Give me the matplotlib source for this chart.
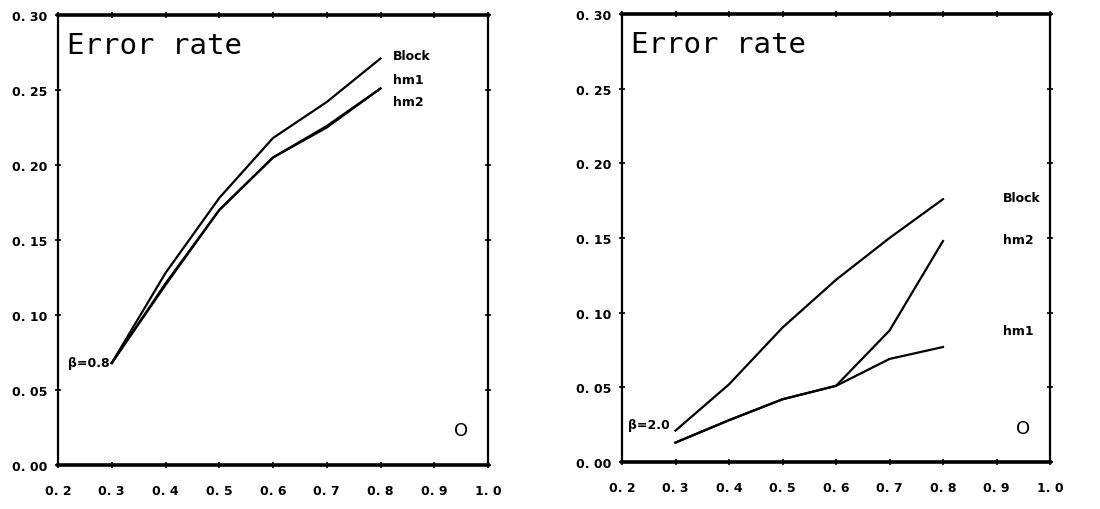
import matplotlib.pyplot as plt
import numpy as np

# load factor on the x axis
load = [0.3, 0.4, 0.5, 0.6, 0.7, 0.8]

# beta = 0.8
block_b08 = [0.068, 0.128, 0.178, 0.218, 0.242, 0.271]
hm1_b08 = [0.068, 0.120, 0.170, 0.205, 0.226, 0.251]
hm2_b08 = [0.068, 0.121, 0.170, 0.205, 0.225, 0.251]

# beta = 2.0
block_b20 = [0.021, 0.052, 0.090, 0.122, 0.150, 0.176]
hm1_b20 = [0.013, 0.028, 0.042, 0.051, 0.069, 0.077]
hm2_b20 = [0.013, 0.028, 0.042, 0.051, 0.088, 0.148]

xticks = [0.2, 0.3, 0.4, 0.5, 0.6, 0.7, 0.8, 0.9, 1.0]
yticks = [0.0, 0.05, 0.10, 0.15, 0.20, 0.25, 0.30]


def fmt(v, nd):
    s = f"{v:.{nd}f}"
    return s.replace(".", ". ")


def setup_axes(ax):
    ax.set_xlim(0.2, 1.0)
    ax.set_ylim(0.0, 0.30)
    ax.set_xticks(xticks)
    ax.set_xticklabels([fmt(v, 1) for v in xticks])
    ax.set_yticks(yticks)
    ax.set_yticklabels([fmt(v, 2) for v in yticks])
    ax.tick_params(direction="inout", length=4, width=1.2,
                   top=True, right=True, labelsize=9)
    ax.tick_params(axis="x", pad=12)
    ax.tick_params(axis="y", pad=6)
    for lab in ax.get_xticklabels() + ax.get_yticklabels():
        lab.set_fontweight("bold")
    for side in ["top", "bottom"]:
        ax.spines[side].set_linewidth(2.6)
    for side in ["left", "right"]:
        ax.spines[side].set_linewidth(1.6)
    ax.text(0.022, 0.965, "Error rate", transform=ax.transAxes,
            fontsize=21, va="top", ha="left", family="DejaVu Sans Mono")
    ax.text(0.95, 0.023, "O", fontsize=13, ha="center", va="center")


fig = plt.figure(figsize=(11, 5.1), dpi=100)
ax1 = fig.add_axes([58 / 1100, 44 / 510, 430 / 1100, 450 / 510])
ax2 = fig.add_axes([622 / 1100, 47 / 510, 428 / 1100, 448 / 510])

lw = 1.6
lab_kw = dict(fontsize=9, fontweight="bold", ha="left", va="center")

# left panel
setup_axes(ax1)
ax1.plot(load, block_b08, color="black", lw=lw)
ax1.plot(load, hm1_b08, color="black", lw=lw)
ax1.plot(load, hm2_b08, color="black", lw=lw)
ax1.text(0.823, 0.273, "Block", **lab_kw)
ax1.text(0.823, 0.257, "hm1", **lab_kw)
ax1.text(0.823, 0.242, "hm2", **lab_kw)
ax1.text(0.218, block_b08[0], "β=0.8", **lab_kw)

# right panel
setup_axes(ax2)
ax2.plot(load, block_b20, color="black", lw=lw)
ax2.plot(load, hm1_b20, color="black", lw=lw)
ax2.plot(load, hm2_b20, color="black", lw=lw)
ax2.text(0.912, 0.177, "Block", **lab_kw)
ax2.text(0.912, 0.149, "hm2", **lab_kw)
ax2.text(0.912, 0.088, "hm1", **lab_kw)
ax2.text(0.211, 0.025, "β=2.0", **lab_kw)

fig.savefig("out.png", dpi=100)
